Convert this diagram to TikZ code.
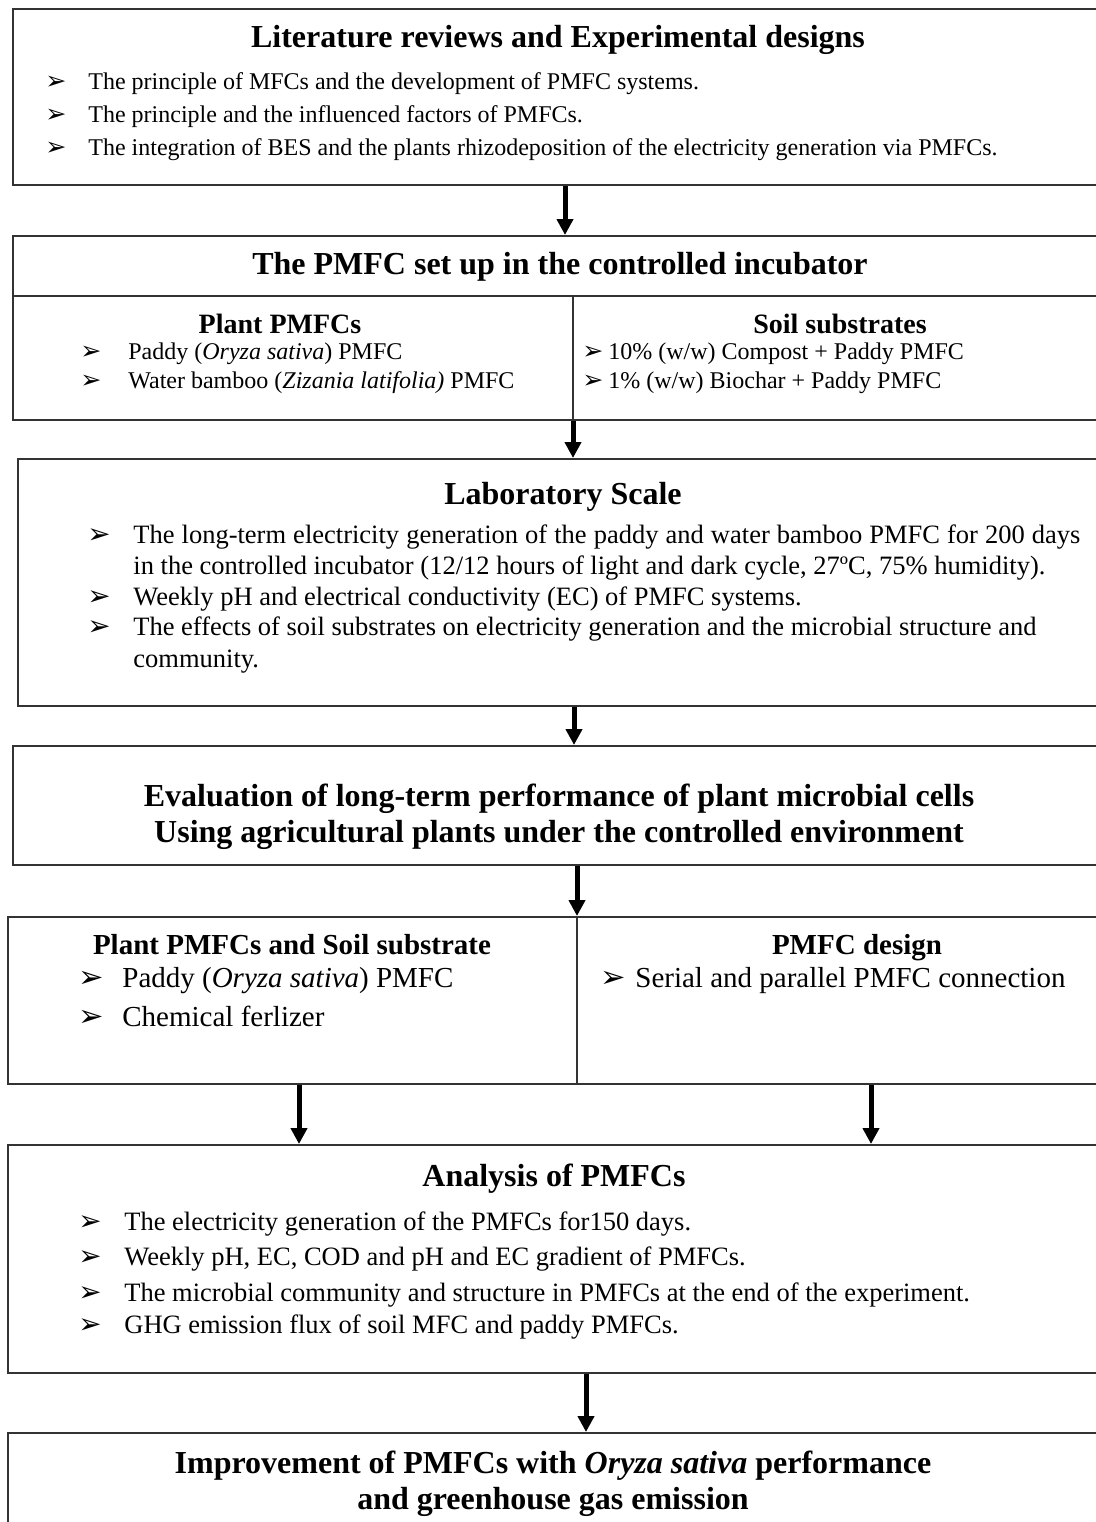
\documentclass[tikz,border=0pt]{standalone}
\usepackage{fontspec}
\usepackage{graphicx}
\setmainfont{Liberation Serif}
\newfontfamily\dejavu{DejaVu Sans}
\usetikzlibrary{arrows.meta, positioning}

\newcommand{\bul}{\scalebox{1.05}{\dejavu\char"27A2}}
\newcommand{\itm}[2]{\makebox[#1][l]{\bul}#2}

\begin{document}
\begin{tikzpicture}[
		x=0.5pt, y=-0.5pt,
		box/.style={draw=black!80, line width=1pt, anchor=north west, inner sep=0pt, minimum width=548pt},
		rule/.style={draw=black!80, line width=1pt},
		head/.style={font=\bfseries\fontsize{16pt}{19pt}\selectfont, anchor=base, inner sep=0pt},
		sub/.style={font=\bfseries\fontsize{#1}{#1}\selectfont, anchor=base, inner sep=0pt},
		item/.style={font=\fontsize{#1}{#1}\selectfont, anchor=base west, inner sep=0pt},
		flow/.style={-{Triangle[width=8pt,length=8pt]}, line width=2.5pt}
		]
		\useasboundingbox (0,0) rectangle (1096,1522);
		\clip (0,0) rectangle (1096,1522);
		
		% Boxes
		\node[box, minimum height=88pt] (lit) at (12,8) {};
		\node[box, minimum height=92pt] (setup) at (12,235) {};
		\node[box, minimum height=123.5pt] (lab) at (17,458) {};
		\node[box, minimum height=59.5pt] (eval) at (12,745) {};
		\node[box, minimum height=83.5pt] (design) at (7,916) {};
		\node[box, minimum height=114pt] (anal) at (7,1144) {};
		\node[box, minimum height=70pt] (impr) at (7,1432) {};
		
		% Dividers
		\coordinate (s1) at (0,296);
		\coordinate (s2) at (573,296);
		\coordinate (d2) at (577,0);
		\draw[rule] (setup.west |- s1) -- (setup.east |- s1);
		\draw[rule] (s2) -- (setup.south -| s2);
		\draw[rule] (design.north -| d2) -- (design.south -| d2);
		
		% Literature reviews
		\node[head] (t1) at (558,47) {Literature reviews and Experimental designs};
		\node[item=12pt] (l1a) at (45,89) {\itm{21.5pt}{The principle of MFCs and the development of PMFC systems.}};
		\node[item=12pt] (l1b) at (45,122) {\itm{21.5pt}{The principle and the influenced factors of PMFCs.}};
		\node[item=12pt] (l1c) at (45,155) {\itm{21.5pt}{The integration of BES and the plants rhizodeposition of the electricity generation via PMFCs.}};
		
		% PMFC set up
		\node[head] (t2) at (560,274) {The PMFC set up in the controlled incubator};
		\node[sub=14pt] (h2a) at (280,333) {Plant PMFCs};
		\node[item=12pt] (l2a) at (80,359) {\itm{24pt}{Paddy (\textit{Oryza sativa}) PMFC}};
		\node[item=12pt] (l2b) at (80,388) {\itm{24pt}{Water bamboo (\textit{Zizania latifolia)} PMFC}};
		\node[sub=14pt] (h2b) at (840,333) {Soil substrates};
		\node[item=12pt] (l2c) at (582,359) {\itm{13pt}{10\% (w/w) Compost + Paddy PMFC}};
		\node[item=12pt] (l2d) at (582,388) {\itm{13pt}{1\% (w/w) Biochar + Paddy PMFC}};
		
		% Laboratory scale
		\node[head] (t3) at (563,504) {Laboratory Scale};
		\node[item=13.25pt] (l3a) at (87,543) {\itm{23pt}{\makebox[473.5pt][s]{The long-term electricity generation of the paddy and water bamboo PMFC for 200 days}}};
		\node[item=13.25pt] (l3b) at (133,574) {in the controlled incubator (12/12 hours of light and dark cycle, 27ºC, 75\% humidity).};
		\node[item=13.25pt] (l3c) at (87,605) {\itm{23pt}{Weekly pH and electrical conductivity (EC) of PMFC systems.}};
		\node[item=13.25pt] (l3d) at (87,635) {\itm{23pt}{The effects of soil substrates on electricity generation and the microbial structure and}};
		\node[item=13.25pt] (l3e) at (133,667) {community.};
		
		% Evaluation
		\node[head] (t4a) at (559,806) {Evaluation of long-term performance of plant microbial cells};
		\node[head] (t4b) at (559,842) {Using agricultural plants under the controlled environment};
		
		% Plant PMFCs and design
		\node[sub=14.5pt] (h5a) at (292,954) {Plant PMFCs and Soil substrate};
		\node[item=14.5pt] (l5a) at (78,987) {\itm{22pt}{Paddy (\textit{Oryza sativa}) PMFC}};
		\node[item=14.5pt] (l5b) at (78,1026) {\itm{22pt}{Chemical ferlizer}};
		\node[sub=14.5pt] (h5b) at (857,954) {PMFC design};
		\node[item=14.5pt] (l5c) at (600,987) {\itm{17.5pt}{Serial and parallel PMFC connection}};
		
		% Analysis
		\node[head] (t6) at (554,1186) {Analysis of PMFCs};
		\node[item=13.25pt] (l6a) at (78,1230) {\itm{23pt}{The electricity generation of the PMFCs for150 days.}};
		\node[item=13.25pt] (l6b) at (78,1265) {\itm{23pt}{Weekly pH, EC, COD and pH and EC gradient of PMFCs.}};
		\node[item=13.25pt] (l6c) at (78,1301) {\itm{23pt}{The microbial community and structure in PMFCs at the end of the experiment.}};
		\node[item=13.25pt] (l6d) at (78,1333) {\itm{23pt}{GHG emission flux of soil MFC and paddy PMFCs.}};
		
		% Improvement
		\node[head] (t7a) at (553,1473) {Improvement of PMFCs with \textit{Oryza sativa} performance};
		\node[head] (t7b) at (553,1509) {and greenhouse gas emission};
		
		% Arrows
		\coordinate (a1) at (565,0);
		\coordinate (a2) at (573,0);
		\coordinate (a3) at (574,0);
		\coordinate (a4) at (577,0);
		\coordinate (a5) at (299,0);
		\coordinate (a6) at (871,0);
		\coordinate (a7) at (586,0);
		\draw[flow] (lit.south -| a1) -- (setup.north -| a1);
		\draw[flow] (setup.south -| a2) -- (lab.north -| a2);
		\draw[flow] (lab.south -| a3) -- (eval.north -| a3);
		\draw[flow] (eval.south -| a4) -- (design.north -| a4);
		\draw[flow] (design.south -| a5) -- (anal.north -| a5);
		\draw[flow] (design.south -| a6) -- (anal.north -| a6);
		\draw[flow] (anal.south -| a7) -- (impr.north -| a7);
		
	\end{tikzpicture}
\end{document}
